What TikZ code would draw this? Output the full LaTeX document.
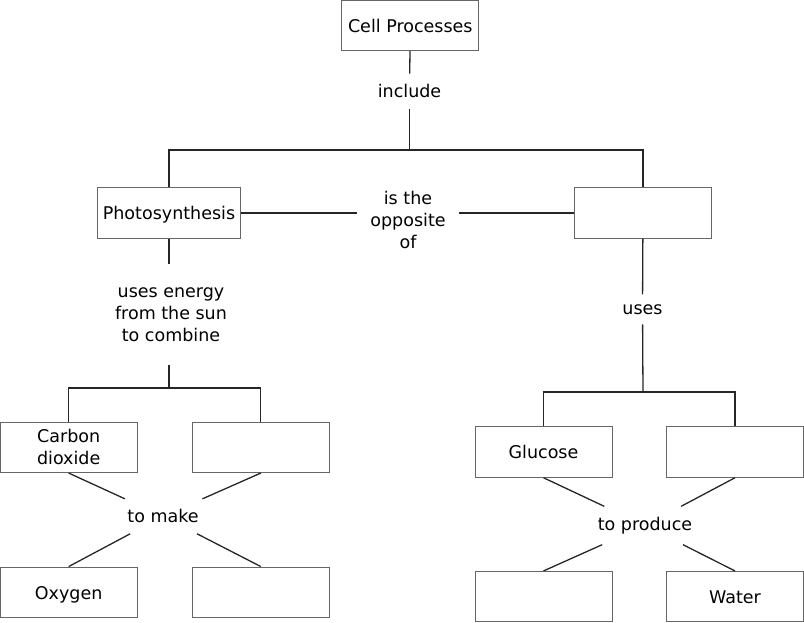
\documentclass[tikz,border=0pt]{standalone}
\usepackage{fontspec}
\setmainfont{DejaVu Sans}
\usetikzlibrary{positioning}
\newcommand{\mapfont}{\fontsize{17.5}{22}\selectfont}
\tikzset{
  conceptbase/.style={
    draw=black!60,
    line width=1pt,
    minimum width=137pt,
    minimum height=50.5pt,
    inner xsep=5pt,
    align=center,
    font=\mapfont,
  },
  % one-line boxes: fixed line box so the text sits a bit low, as in the map
  conceptbox/.style={conceptbase, text height=17.3pt, text depth=3.5pt},
  linklabel/.style={align=center, font=\mapfont, inner xsep=13pt, inner ysep=10.5pt},
  linkline/.style={line width=1.3pt, draw=black!85},
}

\begin{document}
\begin{tikzpicture}[x=1pt, y=-1pt]
  \useasboundingbox (0,0) rectangle (804,623);

  % top level
  \node[conceptbox] (cell) at (410.3,25.3) {Cell Processes};
  \node[linklabel] (include) at (409.5,91.2) {include};
  \coordinate (tbus) at (409.5,150);

  \node[conceptbox] (photo) at (169,213) {Photosynthesis};
  \node[conceptbox] (resp) at (643,213) {};
  \node[linklabel] (opp) at (408,220.3) {is the\\opposite\\of};

  % left branch
  \node[linklabel, inner ysep=23pt] (combine) at (171,314.5) {uses energy\\from the sun\\to combine};
  \coordinate (lbus) at (169,388);
  \node[conceptbase] (co2) at (68.7,447.3) {Carbon\\dioxide};
  \node[conceptbox] (lin2) at (260.8,447.3) {};
  \node[linklabel] (make) at (163,516.3) {to make};
  \node[conceptbox] (oxy) at (68.7,592.3) {Oxygen};
  \node[conceptbox] (lout2) at (260.8,592.3) {};

  % right branch
  \node[linklabel, inner ysep=9.8pt] (uses) at (642.5,309.3) {uses};
  \coordinate (rbus) at (643,392);
  \node[conceptbox] (glu) at (543.5,452) {Glucose};
  \node[conceptbox] (rin2) at (735,452) {};
  \node[linklabel] (produce) at (645,525.5) {to produce};
  \node[conceptbox] (rout1) at (543.5,596.7) {};
  \node[conceptbox] (water) at (735,596.7) {Water};

  \draw[linkline] (cell) -- (include);
  \draw[linkline] (include) -- (tbus);
  \draw[linkline] (photo.north) |- (tbus) -| (resp.north);
  \draw[linkline] (photo.east) -- (photo.east -| opp.west);
  \draw[linkline] (opp.east |- resp.west) -- (resp.west);

  \draw[linkline] (photo) -- (photo |- combine.north);
  \draw[linkline] (photo |- combine.south) -- (lbus);
  \draw[linkline] (co2.north) |- (lbus) -| (lin2.north);
  \foreach \a in {co2, lin2} {
    \draw[linkline] (\a.south) -- (make);
  }
  \foreach \b in {oxy, lout2} {
    \draw[linkline] (make) -- (\b.north);
  }

  \draw[linkline] (resp) -- (uses);
  \draw[linkline] (uses) -- (rbus);
  \draw[linkline] (glu.north) |- (rbus) -| (rin2.north);
  \foreach \a in {glu, rin2} {
    \draw[linkline] (\a.south) -- (produce);
  }
  \foreach \b in {rout1, water} {
    \draw[linkline] (produce) -- (\b.north);
  }
\end{tikzpicture}
\end{document}
